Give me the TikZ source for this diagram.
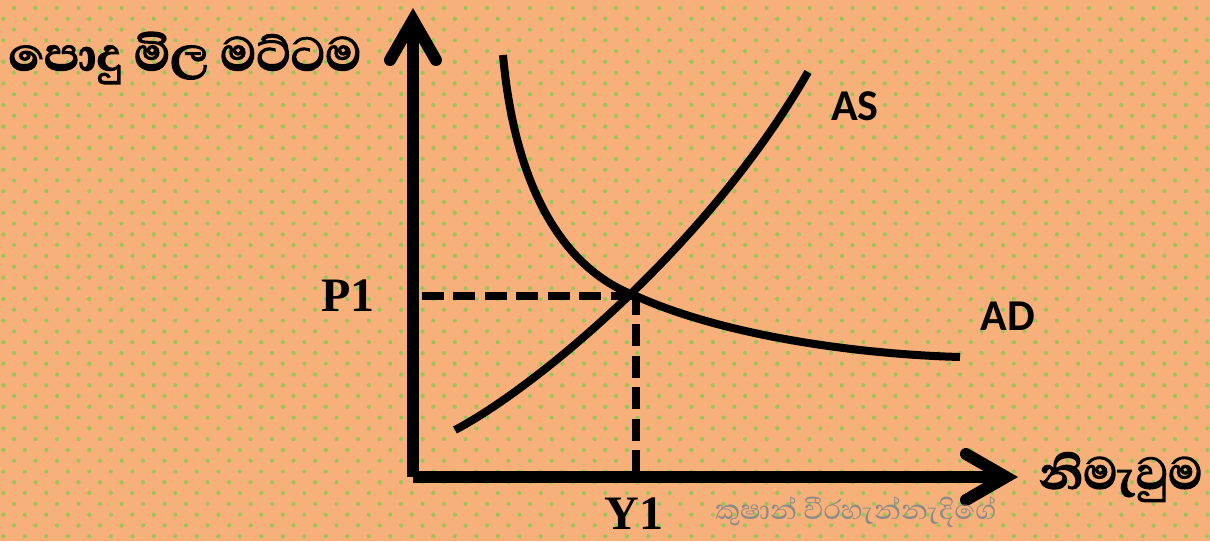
\documentclass[tikz,border=0pt]{standalone}
\usepackage{fontspec}
\setmainfont{Liberation Serif}
\newfontfamily\sinfont[Script=Sinhala]{Abhaya Libre}
\newfontfamily\sinheavy[Script=Sinhala, FakeBold=2.5]{Abhaya Libre}
\newfontfamily\calfont{Carlito}
\usetikzlibrary{arrows.meta}
\definecolor{bgorange}{RGB}{247,176,122}
\definecolor{dotgreen}{RGB}{155,196,90}
\definecolor{wmgray}{RGB}{138,138,138}

\begin{document}
\begin{tikzpicture}[x=1pt, y=-1pt,
  axis/.style={line width=12pt, -{Straight Barb[length=40pt, width=46pt, line cap=round, line join=miter]}},
  curve/.style={line width=8pt},
  guide/.style={line width=7.5pt, dash pattern=on 22pt off 9.5pt},
  lbl/.style={font=\bfseries\fontsize{48}{48}\selectfont},
  crv/.style={font=\calfont\bfseries\fontsize{44}{44}\selectfont},
  sin/.style={font=\sinheavy\bfseries\fontsize{#1}{#1}\selectfont}]
\fill[bgorange] (0,0) rectangle (1210,541);
\useasboundingbox (0,0) rectangle (1210,541);
\foreach \r in {0,...,50} {
  \pgfmathsetmacro{\xo}{isodd(\r) ? 3.3 : 14.05}
  \foreach \c in {0,...,56}
    \fill[dotgreen] ({\xo+21.5*\c}, {7.98+10.78*\r}) circle (2.1);
}
\coordinate (O) at (413,477);
\coordinate (ytip) at (413,8);
\coordinate (xtip) at (1018,477);
\coordinate (E) at (636,296);
\coordinate (as0) at (455,430);
\coordinate (as1) at (808,72);
\coordinate (ad0) at (503,55);
\coordinate (ad1) at (960,357);
\draw[guide, dash phase=22.8pt] (E -| O) -- (E);
\draw[guide, dash phase=3.5pt] (E) -- (E |- O);
\draw[axis] (O) -- (ytip);
\draw[axis] (O) -- (xtip);
\draw[curve] (as0) .. controls (540,385) and (712,240) .. (as1);
\draw[curve] (ad0) .. controls (515,190) and (565,270) .. (E) .. controls (720,334) and (850,354) .. (ad1);
\node[lbl] (p1) at (348,296) {P1};
\node[lbl] (y1) at (634,514) {Y1};
\node[crv] (as) at (855,106) {AS};
\node[crv] (ad) at (1008,316) {AD};
\node[sin=60] (ylab) at (185,58) {පොදු මිල මට්ටම};
\node[sin=57] (xlab) at (1121,477) {නිමැවුම};
\node[font=\sinfont\fontsize{35}{35}\selectfont, text=wmgray] (wm) at (856,512) {කුෂාන් වීරහැන්නැදිගේ};
\end{tikzpicture}
\end{document}
